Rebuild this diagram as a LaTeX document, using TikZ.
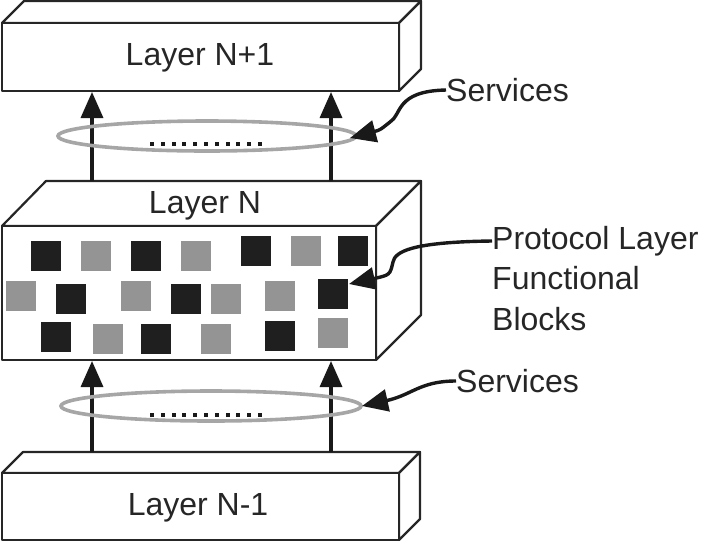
\documentclass[tikz,border=0pt]{standalone}
\usepackage{fontspec}
\setmainfont{Liberation Sans}
\usetikzlibrary{arrows.meta}
\begin{document}
\begin{tikzpicture}[x=1pt,y=-1pt,
  box/.style={draw=black!85,line width=2.2pt,fill=white,line join=round},
  lbl/.style={font=\fontsize{32}{38}\selectfont,text=black!85,inner sep=0pt},
  up/.style={line width=3.4pt,draw=black!90,-{Triangle[length=26pt,width=22pt]}},
  ring/.style={draw=black!35,line width=3.6pt},
  call/.style={line width=3.4pt,draw=black!90,-{Triangle[length=26pt,width=22pt]}},
  blk/.style={fill=black!88},
  gry/.style={fill=black!42}]
\useasboundingbox (0,0) rectangle (717,542);
% top box
\draw[box] (2,23) -- (24,1) -- (421,1) -- (399,23) -- cycle;
\draw[box] (399,23) -- (421,1) -- (421,69) -- (399,91) -- cycle;
\draw[box] (2,23) rectangle (399,91);
\node[lbl] (ln1) at (200,58) {Layer N+1};
% middle box
\draw[box] (2,226) -- (46,181) -- (421,181) -- (376,226) -- cycle;
\draw[box] (376,226) -- (421,181) -- (421,315) -- (376,360) -- cycle;
\draw[box] (2,226) rectangle (376,360);
\node[lbl] (ln) at (205,206) {Layer N};
% bottom box
\draw[box] (2,473) -- (23,452) -- (420,452) -- (399,473) -- cycle;
\draw[box] (399,473) -- (420,452) -- (420,519) -- (399,540) -- cycle;
\draw[box] (2,473) rectangle (399,540);
\node[lbl] (lnm) at (198,508) {Layer N-1};
% anchors
\coordinate (a1) at (92,181); \coordinate (a1t) at (92,92);
\coordinate (a2) at (331,181); \coordinate (a2t) at (331,92);
\coordinate (b1) at (92,452); \coordinate (b1t) at (92,361);
\coordinate (b2) at (331,452); \coordinate (b2t) at (331,361);
\draw[up] (a1) -- (a1t); \draw[up] (a2) -- (a2t);
\draw[up] (b1) -- (b1t); \draw[up] (b2) -- (b2t);
% rings
\draw[ring] (207,136) ellipse (149 and 15);
\draw[ring] (211,406) ellipse (150 and 15);
\foreach \i in {0,...,10}{\fill[black!90] (150+\i*10.8,141.5) rectangle +(4,4);}
\foreach \i in {0,...,10}{\fill[black!90] (150+\i*10.8,412.5) rectangle +(4,4);}
% blocks
\foreach \x/\y/\s in {31/241/blk,81/241/gry,131/241/blk,181/241/gry,241/236/blk,291/236/gry,338/236/blk,
  6/281/gry,56/284/blk,121/281/gry,171/284/blk,211/284/gry,265/281/gry,318/279/blk,
  41/322/blk,93/324/gry,141/324/blk,201/324/gry,265/321/blk,318/318/gry}
  {\fill[\s] (\x,\y) rectangle +(30,30);}
% labels
\node[lbl,anchor=west] (s1) at (446,90) {Services};
\node[lbl,anchor=west] (s2) at (456,381) {Services};
\node[lbl,anchor=north west,align=left,font=\fontsize{32}{40.5}\selectfont] (pl) at (492,226) {Protocol Layer\\Functional\\Blocks};
\coordinate (t1) at (350,138);
\coordinate (t2) at (349,284);
\coordinate (t3) at (362,406);
\draw[call] (s1.west) .. controls (395,91) and (402,115) .. (390,122) .. controls (380,130) .. (t1);
\draw[call] (pl.north west) ++(0,15) .. controls (410,242) and (395,252) .. (393,262) .. controls (390,275) .. (t2);
\draw[call] (s2.west) .. controls (420,381) and (412,395) .. (t3);
\end{tikzpicture}
\end{document}
